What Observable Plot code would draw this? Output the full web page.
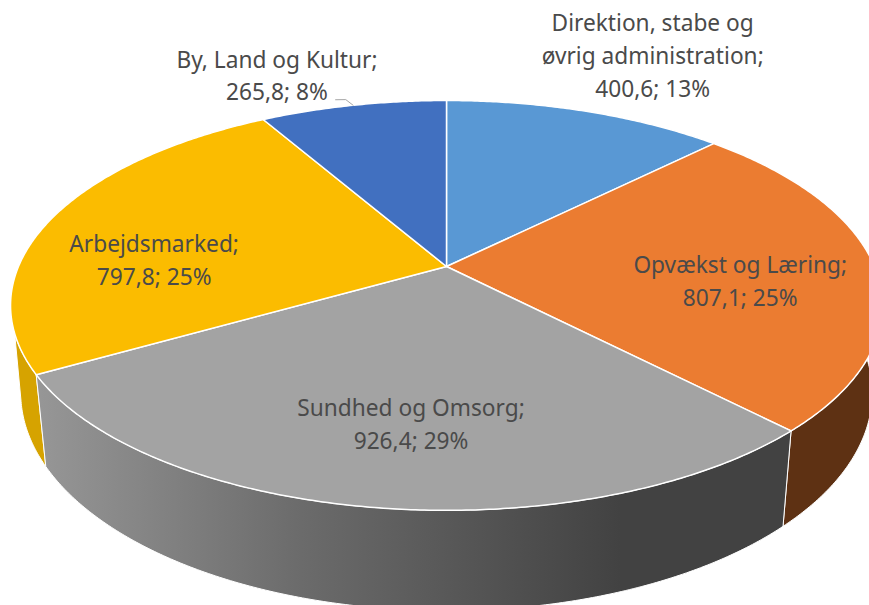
<!DOCTYPE html>
<html>
<head>
<meta charset="utf-8">
<script src="https://cdn.jsdelivr.net/npm/d3@7"></script>
<script src="https://cdn.jsdelivr.net/npm/@observablehq/plot@0.6"></script>
<style>
  html, body { margin: 0; padding: 0; background: #fff; }
  svg { display: block; max-width: none; }
</style>
</head>
<body>
<div id="chart"></div>
<script>
const categories = ["Direktion, stabe og\nøvrig administration;", "Opvækst og Læring;", "Sundhed og Omsorg;", "Arbejdsmarked;", "By, Land og Kultur;"];
const values = [400.6, 807.1, 926.4, 797.8, 265.8];
const valueLabels = ["400,6", "807,1", "926,4", "797,8", "265,8"];
const percentLabels = ["13%", "25%", "29%", "25%", "8%"];
const colors = ["#5998D4", "#EB7C31", "#A3A3A3", "#FBBC00", "#4170C0"];

// Label placement: radius relative to the rim, angle offset from the slice's middle
const labelRadius = [1.487, 0.681, 0.688, 0.69, 1.295];
const labelTurn = [1.5, 4.9, -2.1, -11.6, -7.1];

// Perspective view of the pie disc
const upperView = {cx: 446, cy: 266, a: 428, b: 197.5, k: 0.19};
const lowerView = {cx: 446, cy: 351, a: 418, b: 210, k: 0.19};
const project = (view, deg, r = 1) => {
  const t = deg * Math.PI / 180;
  const X = r * Math.sin(t), Y = -r * Math.cos(t), w = 1 - view.k * Y;
  return [view.cx + view.a * X / w, view.cy + view.b * Y / w];
};
const arc = (view, from, to) => {
  const n = Math.max(2, Math.ceil(Math.abs(to - from) * 2));
  return d3.range(n + 1).map(i => project(view, from + (to - from) * i / n));
};

const total = d3.sum(values);
const ends = d3.cumsum(values).map(v => v / total * 360);
const slices = values.map((v, i) => ({from: i ? ends[i - 1] : 0, to: ends[i], fill: colors[i]}));

const closed = pts => [...pts, pts[0]];
const lineOf = (pts, fill, strokeWidth = 1.5) =>
  Plot.line(pts, {x: d => d[0], y: d => d[1], fill, stroke: "#fff", strokeWidth, curve: "linear", strokeLinejoin: "round"});

const [s1, s2, s3] = [slices[1], slices[2], slices[3]];
const sideOrange = closed([...arc(upperView, s1.to, 95), ...arc(lowerView, 90, s1.to)]);
const sideYellow = closed([...arc(upperView, s3.from, 251.4), ...arc(lowerView, 256.8, s3.from)]);
const sideGray = closed([...arc(upperView, s2.from, s2.to), ...arc(lowerView, s2.to, s2.from)]);

const tops = slices.map(s => closed([[upperView.cx, upperView.cy], ...arc(upperView, s.from, s.to)]));

const labels = categories.map((c, i) => {
  const mid = (slices[i].from + slices[i].to) / 2;
  const [x, y] = project(upperView, mid + labelTurn[i], labelRadius[i]);
  return {x, y, text: `${c}\n${valueLabels[i]}; ${percentLabels[i]}`};
});

const byMid = (slices[4].from + slices[4].to) / 2;
const leader = [project(upperView, byMid, 1), project(upperView, byMid - 0.6, 1.045), project(upperView, byMid - 2.1, 1.052)];

const defs = () => {
  const d = d3.create("svg:defs");
  const g = d.append("linearGradient").attr("id", "sideGrad")
    .attr("gradientUnits", "userSpaceOnUse")
    .attr("x1", 40).attr("x2", 620).attr("y1", 0).attr("y2", 0);
  g.append("stop").attr("offset", "0").attr("stop-color", "#969696");
  g.append("stop").attr("offset", "0.45").attr("stop-color", "#6b6b6b");
  g.append("stop").attr("offset", "1").attr("stop-color", "#424242");
  return d.node();
};

const chart = Plot.plot({
  width: 869,
  height: 605,
  margin: 0,
  style: {background: "#fff"},
  x: {domain: [0, 869], range: [0, 869], axis: null},
  y: {domain: [0, 605], range: [0, 605], axis: null},
  marks: [
    defs,
    lineOf(sideYellow, "#D6A300", 1),
    lineOf(sideOrange, "#5E3113", 1),
    lineOf(sideGray, "url(#sideGrad)", 1),
    ...tops.map((p, i) => lineOf(p, slices[i].fill, 1.5)),
    Plot.line(leader, {x: d => d[0], y: d => d[1], stroke: "#a6a6a6", strokeWidth: 1, curve: "linear"}),
    Plot.text(labels, {
      x: "x", y: "y", text: "text",
      fontFamily: "Noto Sans", fontSize: 22.7, lineHeight: 1.45,
      fill: "#4a4a4a", textAnchor: "middle"
    })
  ]
});
document.getElementById("chart").appendChild(chart);
</script>
</body>
</html>
